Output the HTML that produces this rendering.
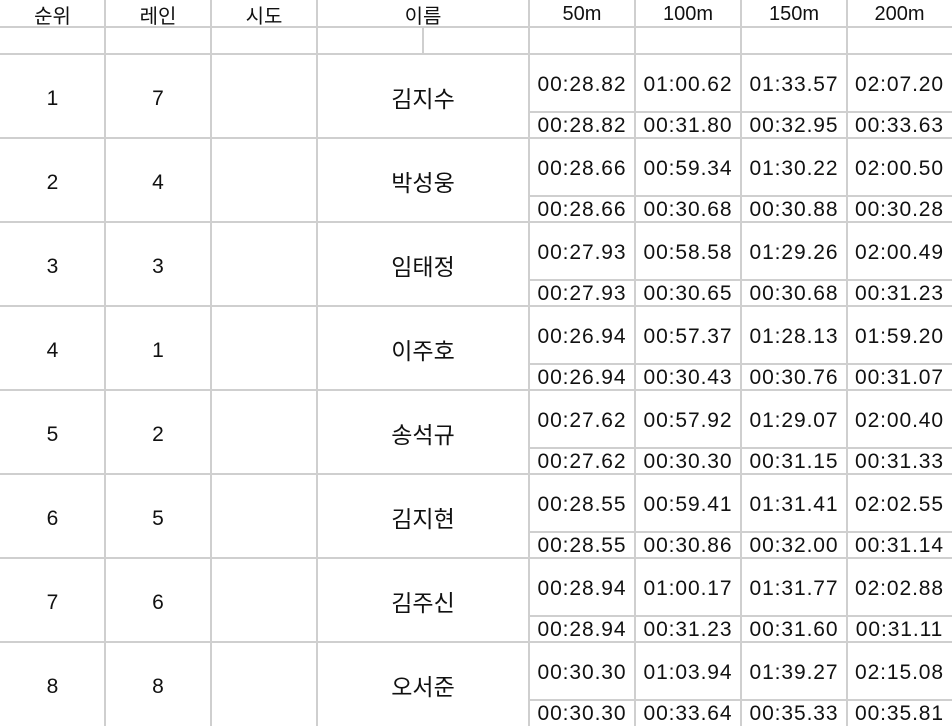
<!DOCTYPE html>
<html><head><meta charset="utf-8">
<style>
html,body{margin:0;padding:0;background:#fff;}
#t{position:relative;width:952px;height:726px;overflow:hidden;font-family:"Liberation Sans","Noto Sans CJK KR",sans-serif;color:#111;}
.h{position:absolute;height:2px;background:#cfcfcf;}
.v{position:absolute;width:2px;background:#cfcfcf;}
.c{position:absolute;display:flex;align-items:center;justify-content:center;font-size:21px;white-space:nowrap;}
.tm{letter-spacing:0.9px;font-size:21px;}
.nm{font-size:23px;}
.hd{font-size:20px;}
</style></head><body>
<div id="t"></div>
<script>
const headers=["순위","레인","시도","이름","50m","100m","150m","200m"];
const ranks=[1,2,3,4,5,6,7,8];
const lanes=[7,4,3,1,2,5,6,8];
const names=["김지수","박성웅","임태정","이주호","송석규","김지현","김주신","오서준"];
const cumTimes=[
["00:28.82","01:00.62","01:33.57","02:07.20"],
["00:28.66","00:59.34","01:30.22","02:00.50"],
["00:27.93","00:58.58","01:29.26","02:00.49"],
["00:26.94","00:57.37","01:28.13","01:59.20"],
["00:27.62","00:57.92","01:29.07","02:00.40"],
["00:28.55","00:59.41","01:31.41","02:02.55"],
["00:28.94","01:00.17","01:31.77","02:02.88"],
["00:30.30","01:03.94","01:39.27","02:15.08"]];
const splitTimes=[
["00:28.82","00:31.80","00:32.95","00:33.63"],
["00:28.66","00:30.68","00:30.88","00:30.28"],
["00:27.93","00:30.65","00:30.68","00:31.23"],
["00:26.94","00:30.43","00:30.76","00:31.07"],
["00:27.62","00:30.30","00:31.15","00:31.33"],
["00:28.55","00:30.86","00:32.00","00:31.14"],
["00:28.94","00:31.23","00:31.60","00:31.11"],
["00:30.30","00:33.64","00:35.33","00:35.81"]];
const T=document.getElementById('t');
const cx=[0,105,211,317,529,635,741,847,952];
function line(cls,x,y,w,h,name){const d=document.createElement('div');d.className=cls;d.style.left=x+'px';d.style.top=y+'px';
if(cls==='h')d.style.width=w+'px';else d.style.height=h+'px';


T.appendChild(d);}
function cell(x,y,w,h,txt,name,extra){const d=document.createElement('div');d.className='c'+(extra?' '+extra:'');
d.style.left=x+'px';d.style.top=y+'px';d.style.width=w+'px';d.style.height=h+'px';d.textContent=txt;


T.appendChild(d);}
for(let i=0;i<8;i++)cell(cx[i],1,cx[i+1]-cx[i],27,headers[i],'header-'+headers[i],'hd');
line('h',0,26,952,0,'header-bottom-line');
line('h',0,53,952,0,'blank-row-line');
const rowH=84,top0=55;
for(let r=0;r<8;r++){
 const y=top0+r*rowH;
 if(r>0)line('h',0,y-2,952,0,'row-line');
 line('h',529,y+56,423,0,'sub-row-line');
 cell(cx[0],y+2,cx[1]-cx[0],rowH,String(ranks[r]),'rank-cell');
 cell(cx[1],y+2,cx[2]-cx[1],rowH,String(lanes[r]),'lane-cell');
 cell(cx[3],y,cx[4]-cx[3],rowH,names[r],'name-cell','nm');
 for(let k=0;k<4;k++){
  cell(cx[4+k],y+2,cx[5+k]-cx[4+k],56,cumTimes[r][k],'cumulative-time','tm');
  cell(cx[4+k],y+58,cx[5+k]-cx[4+k],26,splitTimes[r][k],'split-time','tm');
 }
}
for(let i=1;i<8;i++)line('v',cx[i]-1,0,0,726,'column-line');
line('v',422,27,0,27,'blank-row-divider');
</script>
</body></html>
